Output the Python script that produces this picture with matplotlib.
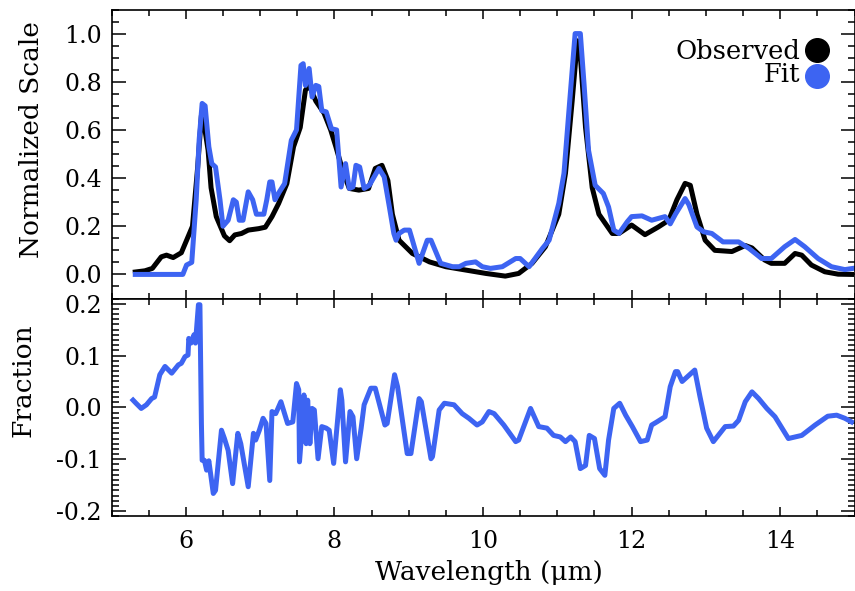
import matplotlib
matplotlib.use("Agg")
import matplotlib.pyplot as plt
from matplotlib.ticker import MultipleLocator

# observed spectrum (normalized)
obs_wave = [5.32, 5.45, 5.55, 5.67, 5.74, 5.83, 5.94, 6.03, 6.09, 6.16, 6.21, 6.23,
            6.30, 6.34, 6.41, 6.52, 6.59, 6.66, 6.75, 6.84, 6.98, 7.07, 7.16, 7.25,
            7.36, 7.45, 7.54, 7.61, 7.66, 7.75, 7.86, 7.95, 8.02, 8.11, 8.20, 8.33,
            8.46, 8.55, 8.64, 8.72, 8.78, 8.87, 9.05, 9.28, 9.50, 9.77, 10.04, 10.30,
            10.48, 10.66, 10.84, 11.02, 11.11, 11.20, 11.27, 11.30, 11.38, 11.47,
            11.56, 11.74, 11.83, 12.00, 12.18, 12.36, 12.50, 12.61, 12.72, 12.79,
            12.88, 12.99, 13.12, 13.35, 13.53, 13.62, 13.79, 13.88, 14.06, 14.20,
            14.29, 14.42, 14.60, 14.78, 14.96]
obs_flux = [0.010, 0.015, 0.025, 0.073, 0.080, 0.070, 0.090, 0.156, 0.200, 0.446, 0.660, 0.655,
            0.516, 0.360, 0.240, 0.160, 0.140, 0.164, 0.170, 0.184, 0.190, 0.196, 0.240, 0.295,
            0.377, 0.530, 0.610, 0.765, 0.785, 0.720, 0.670, 0.600, 0.530, 0.433, 0.357, 0.350,
            0.357, 0.440, 0.453, 0.390, 0.250, 0.142, 0.087, 0.052, 0.032, 0.018, 0.004, -0.007,
            0.004, 0.046, 0.115, 0.250, 0.420, 0.720, 0.970, 0.950, 0.610, 0.360,
            0.250, 0.170, 0.170, 0.205, 0.165, 0.197, 0.225, 0.310, 0.378, 0.370,
            0.250, 0.142, 0.100, 0.095, 0.120, 0.110, 0.060, 0.046, 0.046, 0.087,
            0.080, 0.039, 0.011, 0.001, 0.000]

# model fit
fit_wave = [5.32, 5.96, 6.01, 6.08, 6.14, 6.18, 6.22, 6.26, 6.31, 6.35, 6.40, 6.46,
            6.50, 6.57, 6.64, 6.68, 6.72, 6.77, 6.84, 6.90, 6.95, 7.05, 7.09, 7.13,
            7.16, 7.20, 7.26, 7.33, 7.42, 7.49, 7.55, 7.58, 7.61, 7.66, 7.70, 7.75,
            7.79, 7.83, 7.89, 7.96, 8.03, 8.09, 8.15, 8.20, 8.25, 8.29, 8.34, 8.40,
            8.47, 8.60, 8.67, 8.74, 8.80, 8.83, 8.87, 8.94, 9.01, 9.05, 9.14, 9.25,
            9.30, 9.43, 9.59, 9.68, 9.77, 9.90, 9.99, 10.10, 10.26, 10.44, 10.50, 10.62,
            10.71, 10.80, 10.89, 11.02, 11.09, 11.15, 11.24, 11.31, 11.36, 11.42, 11.51,
            11.62, 11.69, 11.76, 11.83, 11.94, 12.00, 12.14, 12.27, 12.45, 12.52, 12.59,
            12.72, 12.77, 12.88, 12.97, 13.08, 13.23, 13.44, 13.58, 13.75, 13.88, 14.06,
            14.20, 14.33, 14.51, 14.69, 14.87, 14.98]
fit_flux = [0.0, 0.0, 0.039, 0.050, 0.310, 0.560, 0.710, 0.700, 0.530, 0.460, 0.446, 0.310,
            0.200, 0.225, 0.310, 0.300, 0.225, 0.225, 0.343, 0.310, 0.250, 0.250, 0.310, 0.384,
            0.384, 0.310, 0.343, 0.377, 0.557, 0.600, 0.868, 0.875, 0.785, 0.855, 0.737, 0.785,
            0.780, 0.680, 0.675, 0.605, 0.600, 0.363, 0.460, 0.357, 0.363, 0.453, 0.446, 0.357,
            0.370, 0.440, 0.405, 0.280, 0.170, 0.142, 0.170, 0.184, 0.184, 0.142, 0.046, 0.142,
            0.142, 0.046, 0.032, 0.032, 0.046, 0.052, 0.032, 0.025, 0.032, 0.066, 0.066, 0.032,
            0.070, 0.108, 0.142, 0.295, 0.420, 0.654, 1.000, 1.000, 0.790, 0.516, 0.370,
            0.336, 0.280, 0.184, 0.170, 0.218, 0.240, 0.243, 0.225, 0.240, 0.210, 0.250,
            0.315, 0.290, 0.197, 0.177, 0.170, 0.135, 0.135, 0.108, 0.066, 0.066, 0.115,
            0.145, 0.115, 0.066, 0.032, 0.020, 0.025]

# fractional residual
res_wave = [5.29, 5.33, 5.40, 5.47, 5.54, 5.58, 5.65, 5.72, 5.81, 5.90, 5.94, 5.99,
            6.03, 6.04, 6.07, 6.11, 6.13, 6.17, 6.19, 6.21, 6.22, 6.25, 6.28, 6.31,
            6.37, 6.40, 6.48, 6.52, 6.57, 6.63, 6.70, 6.74, 6.84, 6.91, 6.94, 6.99,
            7.04, 7.08, 7.13, 7.16, 7.21, 7.28, 7.33, 7.37, 7.44, 7.49, 7.52, 7.53,
            7.57, 7.59, 7.62, 7.64, 7.67, 7.70, 7.73, 7.78, 7.83, 7.89, 7.93, 7.99,
            8.03, 8.08, 8.10, 8.15, 8.21, 8.25, 8.30, 8.36, 8.40, 8.49, 8.55, 8.68,
            8.71, 8.81, 8.85, 8.98, 9.03, 9.14, 9.17, 9.30, 9.32, 9.41, 9.48, 9.61,
            9.72, 9.81, 9.92, 9.99, 10.08, 10.15, 10.28, 10.44, 10.48, 10.64, 10.75,
            10.86, 10.95, 11.04, 11.11, 11.18, 11.24, 11.31, 11.38, 11.43, 11.50, 11.57,
            11.64, 11.69, 11.76, 11.84, 11.92, 12.01, 12.12, 12.21, 12.27, 12.34, 12.45,
            12.52, 12.59, 12.62, 12.68, 12.85, 12.92, 13.01, 13.10, 13.26, 13.37, 13.44,
            13.53, 13.62, 13.71, 13.82, 13.93, 14.11, 14.29, 14.47, 14.64, 14.76, 14.87,
            14.96]
res_frac = [0.014, 0.008, -0.002, 0.005, 0.017, 0.020, 0.063, 0.079, 0.066, 0.082, 0.085, 0.098,
            0.101, 0.133, 0.124, 0.140, 0.124, 0.198, 0.198, -0.031, -0.102, -0.102, -0.121, -0.103,
            -0.166, -0.160, -0.044, -0.060, -0.083, -0.147, -0.050, -0.070, -0.153, -0.050, -0.063, -0.044,
            -0.021, -0.031, -0.141, -0.008, -0.012, 0.011, -0.012, -0.031, -0.028, 0.046, 0.034, -0.105,
            -0.031, 0.024, -0.070, 0.014, -0.070, -0.002, -0.005, -0.099, -0.037, -0.040, -0.044, -0.108,
            -0.044, 0.034, 0.014, -0.105, -0.008, -0.018, -0.099, -0.040, 0.005, 0.037, 0.037, -0.034,
            -0.031, 0.063, 0.040, -0.089, -0.089, 0.017, 0.011, -0.099, -0.095, -0.005, 0.008, 0.005,
            -0.012, -0.021, -0.034, -0.028, -0.008, -0.012, -0.034, -0.066, -0.063, -0.002, -0.037,
            -0.040, -0.054, -0.057, -0.066, -0.057, -0.066, -0.118, -0.112, -0.054, -0.060, -0.118,
            -0.131, -0.063, -0.002, 0.008, -0.015, -0.037, -0.066, -0.063, -0.034, -0.028, -0.018,
            0.040, 0.069, 0.069, 0.050, 0.072, 0.021, -0.040, -0.066, -0.037, -0.036, -0.025,
            0.011, 0.030, 0.017, -0.002, -0.018, -0.060, -0.054, -0.034, -0.017, -0.015, -0.021,
            -0.028]

BLUE = "#3d64f2"
LW = 3.6
plt.rcParams["font.family"] = ["DejaVu Serif"]

fig = plt.figure(figsize=(8.55, 5.91), dpi=100)
W, H = 855.0, 591.0
x0, x1 = 111.5 / W, 854.5 / W
ax = fig.add_axes([x0, 1 - 298.5 / H, x1 - x0, (298.5 - 9.5) / H])
axr = fig.add_axes([x0, 1 - 516.3 / H, x1 - x0, (516.3 - 298.5) / H])

ax.plot(obs_wave, obs_flux, color="black", lw=LW)
ax.plot(fit_wave, fit_flux, color=BLUE, lw=LW)
axr.plot(res_wave, res_frac, color=BLUE, lw=LW)

for a in (ax, axr):
    a.set_xlim(5, 15)
    a.xaxis.set_major_locator(MultipleLocator(2))
    a.xaxis.set_minor_locator(MultipleLocator(0.5))
    a.tick_params(which="both", direction="in", top=True, right=True,
                  labelsize=17, width=1.1)
    a.tick_params(axis="x", which="major", length=6.5, pad=10)
    a.tick_params(axis="x", which="minor", length=4)
    a.tick_params(axis="y", which="major", length=10, pad=7)
    a.tick_params(axis="y", which="minor", length=5)
    for s in a.spines.values():
        s.set_linewidth(1.2)

ax.set_ylim(-0.1, 1.1)
ax.yaxis.set_major_locator(MultipleLocator(0.2))
ax.yaxis.set_minor_locator(MultipleLocator(0.05))
ax.tick_params(labelbottom=False)
ax.set_ylabel("Normalized Scale", fontsize=19, va="center")
ax.yaxis.set_label_coords(-0.107, 0.551)

axr.set_ylim(-0.21, 0.21)
axr.yaxis.set_minor_locator(MultipleLocator(0.01))
axr.set_yticks([-0.2, -0.1, 0.0, 0.1, 0.2])
axr.set_yticklabels(["-0.2", "-0.1", "0.0", "0.1", "0.2"])
axr.set_ylabel("Fraction", fontsize=19, va="center")
axr.yaxis.set_label_coords(-0.119, 0.627)
axr.set_xlabel("Wavelength (\u03bcm)", fontsize=19, va="center")
axr.xaxis.set_label_coords(0.508, -0.26)

# legend drawn as text plus dots, like the original
ax.text(0.927, 0.827, "Observed", transform=ax.transAxes, ha="right",
        va="baseline", fontsize=18.5)
ax.text(0.927, 0.749, "Fit", transform=ax.transAxes, ha="right",
        va="baseline", fontsize=18.5)
ax.plot([0.950], [0.860], "o", color="black", ms=17, transform=ax.transAxes)
ax.plot([0.950], [0.769], "o", color=BLUE, ms=17, transform=ax.transAxes)

fig.savefig("out.png", dpi=100)
plt.close(fig)
